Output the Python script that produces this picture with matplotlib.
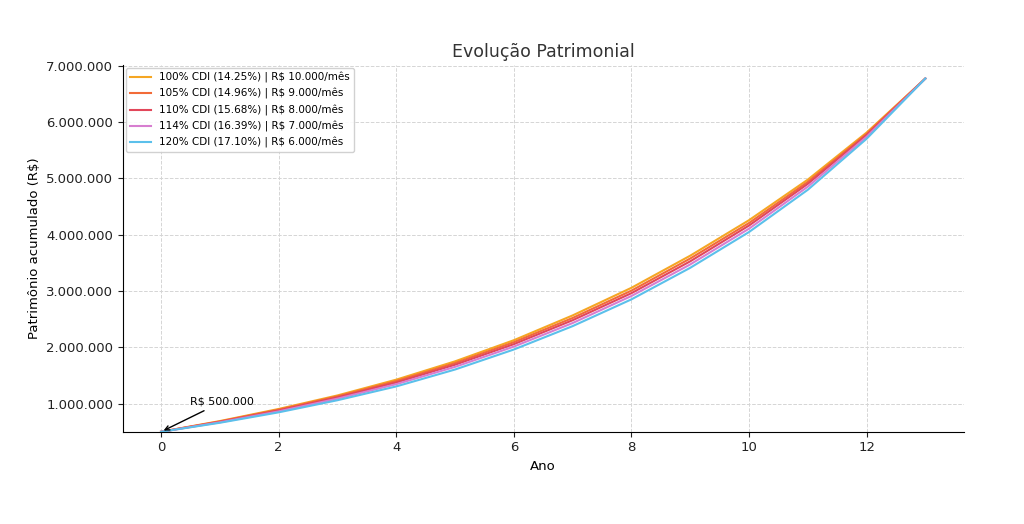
import matplotlib
matplotlib.use("Agg")
import matplotlib.pyplot as plt

years = list(range(14))
labels = ["100% CDI (14.25%) | R$ 10.000/mês",
          "105% CDI (14.96%) | R$ 9.000/mês",
          "110% CDI (15.68%) | R$ 8.000/mês",
          "114% CDI (16.39%) | R$ 7.000/mês",
          "120% CDI (17.10%) | R$ 6.000/mês"]
s100 = [500000, 690000, 905000, 1145000, 1425000, 1750000, 2125000, 2565000, 3055000, 3625000, 4255000, 4975000, 5810000, 6770000]
s105 = [500000, 683000, 892000, 1128000, 1400000, 1720000, 2090000, 2520000, 3005000, 3575000, 4205000, 4935000, 5785000, 6770000]
s110 = [500000, 676000, 878000, 1110000, 1375000, 1690000, 2055000, 2480000, 2960000, 3525000, 4160000, 4900000, 5765000, 6770000]
s114 = [500000, 668000, 862000, 1088000, 1345000, 1652000, 2012000, 2430000, 2910000, 3470000, 4105000, 4850000, 5735000, 6770000]
s120 = [500000, 660000, 845000, 1060000, 1305000, 1605000, 1960000, 2375000, 2850000, 3410000, 4045000, 4795000, 5700000, 6770000]
series = [s100, s105, s110, s114, s120]
colors = ["#f5a623", "#f26b38", "#e2475a", "#d77ed0", "#5bc0eb"]

fig = plt.figure(figsize=(10.24, 5.24), dpi=100)
ax = fig.add_axes([0.120, 0.176, 0.821, 0.700])
for s, c, l in zip(series, colors, labels):
    ax.plot(years, s, color=c, lw=1.5, label=l)
ax.set_xlim(-0.65, 13.65)
ax.set_ylim(500000, 7010000)
ax.set_xticks([0, 2, 4, 6, 8, 10, 12])
yt = [1000000 * i for i in range(1, 8)]
ax.set_yticks(yt)
ax.set_yticklabels([f"{v:,}".replace(",", ".") for v in yt])
ax.tick_params(labelsize=9.5, colors="#222222")
ax.grid(True, ls="--", color="#d5d5d5", lw=0.7)
ax.spines["top"].set_visible(False)
ax.spines["right"].set_visible(False)
ax.set_title("Evolução Patrimonial", fontsize=12.5, color="#333333")
ax.set_xlabel("Ano", fontsize=9.5)
ax.set_ylabel("Patrimônio acumulado (R$)", fontsize=9.5)
ax.annotate("R$ 500.000", xy=(0, 500000), xytext=(0.5, 980000),
            fontsize=8, arrowprops=dict(arrowstyle="->", color="black"))
ax.legend(loc="upper left", fontsize=7.5, framealpha=0.9, borderaxespad=0.3)
fig.savefig("out.png", dpi=100)
